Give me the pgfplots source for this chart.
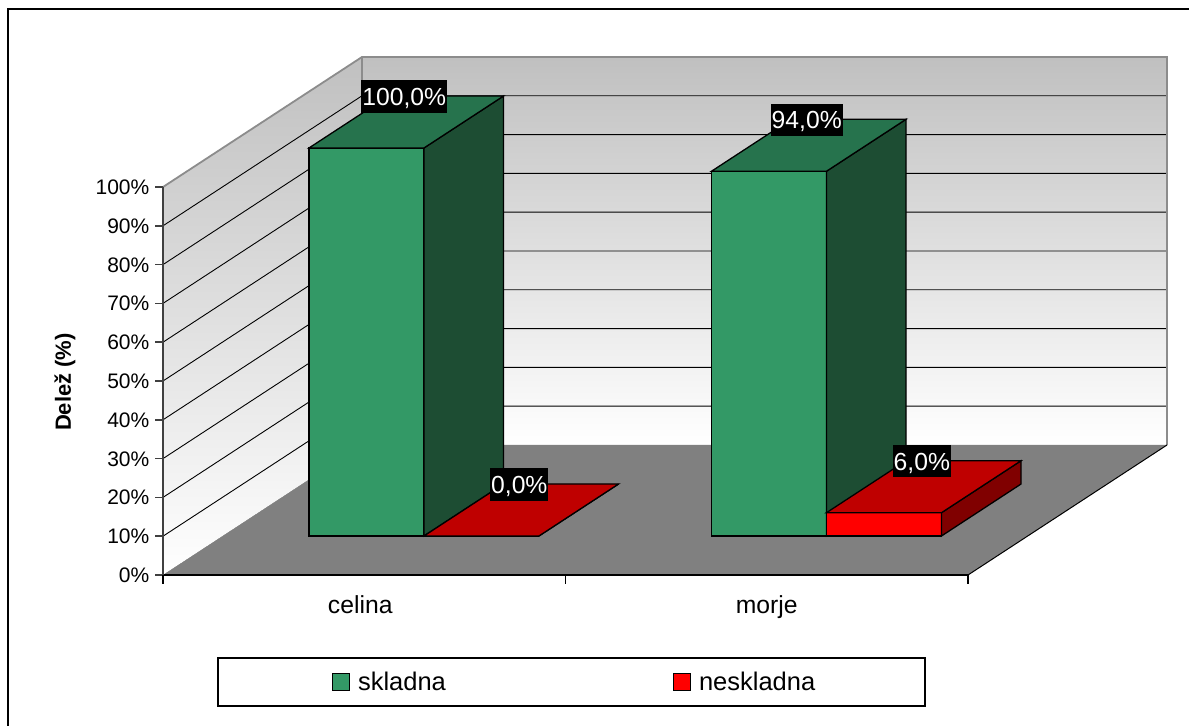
\documentclass[border=0pt]{standalone}
\usepackage{pgfplots}
\pgfplotsset{compat=1.18}
\usepackage{fontspec}
\setmainfont{Liberation Sans}

\definecolor{grfront}{HTML}{339966}
\definecolor{grtop}{HTML}{26734D}
\definecolor{grside}{HTML}{1D4D33}
\definecolor{rdfront}{HTML}{FF0000}
\definecolor{rdtop}{HTML}{BF0000}
\definecolor{rdside}{HTML}{800000}
\definecolor{wallgray}{HTML}{C0C0C0}
\definecolor{floorgray}{HTML}{808080}
\definecolor{edgegray}{HTML}{8C8C8C}
\definecolor{axisdark}{HTML}{404040}

\newcommand\tickfont{\fontsize{21bp}{25bp}\selectfont}
\newcommand\labfont{\fontsize{24.7bp}{29bp}\selectfont}

\pgfkeys{/pgf/number format/assume math mode=true}

% one 3D bar: #1 left, #2 right (category units), #3 value in %,
% #4 front colour, #5 top colour, #6 side colour
\newcommand\cuboid[6]{%
  \addplot3[fill=#4, draw=black, line width=1.3bp, mark=none, forget plot]
    coordinates {(#1,0.3,0) (#2,0.3,0) (#2,0.3,#3) (#1,0.3,#3)} -- cycle;
  \addplot3[fill=#6, draw=black, line width=1.3bp, mark=none, forget plot]
    coordinates {(#2,0.3,0) (#2,0.7,0) (#2,0.7,#3) (#2,0.3,#3)} -- cycle;
  \addplot3[fill=#5, draw=black, line width=1.3bp, mark=none, forget plot]
    coordinates {(#1,0.3,#3) (#2,0.3,#3) (#2,0.7,#3) (#1,0.7,#3)} -- cycle;
}

% value label above the centre of a bar's top face
\newcommand\vallabel[2]{%
  \node[fill=black, text=white, font=\labfont, inner xsep=1bp, inner ysep=0bp,
        text height=18bp, text depth=0bp, minimum height=32.5bp,
        xshift=-2bp, yshift=25.5bp] at (axis cs:#1,0.5,#2)
    {\pgfmathprintnumber[fixed,fixed zerofill,precision=1,use comma]{#2}\%};
}

% legend swatch with padding around it
\newcommand\swatch[1]{%
  \addlegendimage{legend image code/.code={%
    \path[fill=none, draw=none] (-114bp,-15.5bp) rectangle (26bp,32.5bp);
    \draw[fill=#1, draw=black, line width=1bp] (0bp,0bp) rectangle (17bp,17bp);}}%
}

\begin{document}
\begin{tikzpicture}
  % chart area frame
  \draw[line width=2bp] (8bp,-20bp) -- (8bp,717bp) -- (1210bp,717bp);

  \begin{axis}[
      x={(402.5bp,0bp)}, y={(199bp,130bp)}, z={(0bp,3.88bp)},
      xmin=0, xmax=2, ymin=0, ymax=1, zmin=0, zmax=100,
      hide axis, clip=false,
      at={(163bp,151bp)}, anchor=origin,
      legend columns=2,
      legend style={at={(408.5bp,-107bp)}, anchor=center, draw=black, line width=1.3bp,
        fill=white, inner xsep=0pt, inner ysep=0pt, column sep=0pt,
        font=\fontsize{25.5bp}{30bp}\selectfont,
        cells={anchor=base west},
        nodes={inner sep=0pt, text depth=0pt}},
    ]

    % walls and floor
    \fill[top color=wallgray, bottom color=white]
      (axis cs:0,1,0) -- (axis cs:2,1,0) -- (axis cs:2,1,100) -- (axis cs:0,1,100) -- cycle;
    \fill[top color=wallgray, bottom color=white]
      (axis cs:0,0,0) -- (axis cs:0,1,0) -- (axis cs:0,1,100) -- (axis cs:0,0,100) -- cycle;
    \fill[floorgray]
      (axis cs:0,0,0) -- (axis cs:2,0,0) -- (axis cs:2,1,0) -- (axis cs:0,1,0) -- cycle;

    % gridlines on the side and back walls
    \pgfplotsinvokeforeach{10,20,...,90}{
      \draw[black, line width=0.9bp]
        (axis cs:0,0,#1) -- (axis cs:0,1,#1) -- (axis cs:2,1,#1);
    }
    % wall edges
    \draw[edgegray, line width=1.8bp]
      (axis cs:0,0,100) -- (axis cs:0,1,100) -- (axis cs:2,1,100) -- (axis cs:2,1,0);
    \draw[edgegray, line width=1.5bp] (axis cs:0,1,0) -- (axis cs:0,1,100);
    % floor edges
    \draw[black, line width=1bp] (axis cs:2,0,0) -- (axis cs:2,1,0);
    \draw[black, line width=1.6bp] (axis cs:0,0,0) -- (axis cs:2,0,0);

    % value axis with ticks and labels
    \draw[axisdark, line width=2bp] (axis cs:0,0,0) -- (axis cs:0,0,100);
    \pgfplotsinvokeforeach{0,10,...,100}{
      \draw[axisdark, line width=1.5bp] (axis cs:0,0,#1) -- ++(-8bp,0bp);
      \node[anchor=base east, font=\tickfont, inner sep=0pt, xshift=-13.5bp, yshift=-7.5bp]
        at (axis cs:0,0,#1) {#1\%};
    }
    % category ticks and labels
    \pgfplotsinvokeforeach{0,1,2}{
      \draw[black, line width=1.2bp] (axis cs:#1,0,0) -- ++(0bp,-8.5bp);
    }
    \node[anchor=base, font=\labfont, inner sep=0pt, xshift=-4bp, yshift=-39bp]
      at (axis cs:0.5,0,0) {celina};
    \node[anchor=base, font=\labfont, inner sep=0pt, yshift=-39bp]
      at (axis cs:1.5,0,0) {morje};

    % bars: skladna (green) and neskladna (red)
    \cuboid{0.2143}{0.5}{100}{grfront}{grtop}{grside}
    \cuboid{0.5}{0.7857}{0}{rdfront}{rdtop}{rdside}
    \cuboid{1.2143}{1.5}{94}{grfront}{grtop}{grside}
    \cuboid{1.5}{1.7857}{6}{rdfront}{rdtop}{rdside}

    \vallabel{0.357}{100}
    \vallabel{0.643}{0}
    \vallabel{1.357}{94}
    \vallabel{1.643}{6}

    \swatch{grfront}
    \addlegendentry{\makebox[201bp][l]{skladna}}
    \swatch{rdfront}
    \addlegendentry{\makebox[226bp][l]{neskladna}}
  \end{axis}

  \node[rotate=90, font=\bfseries\fontsize{22bp}{26bp}\selectfont] at (65bp,344bp) {Delež (\%)};

  \pgfresetboundingbox
  \path[use as bounding box] (0bp,0bp) rectangle (1189bp,726bp);
\end{tikzpicture}
\end{document}
